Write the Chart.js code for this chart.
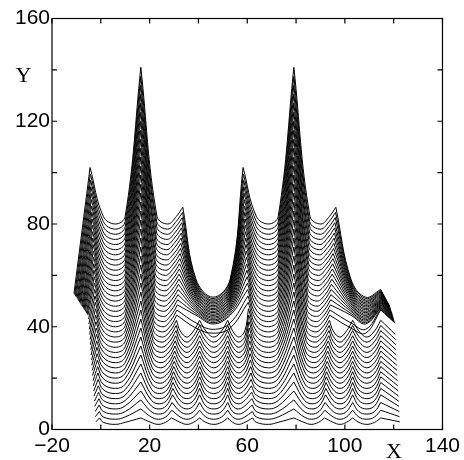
<!DOCTYPE html>
<html>
<head>
<meta charset="utf-8">
<script src="https://cdn.jsdelivr.net/npm/chart.js@4.4.1/dist/chart.umd.min.js"></script>
<style>
html,body{margin:0;padding:0;background:#fff;}
canvas{display:block;}
</style>
</head>
<body>
<canvas id="c" width="464" height="460"></canvas>
<script>
// ---- tick labels ----
const xTickLabels = [-20, 20, 60, 100, 140];
const yTickLabels = [0, 40, 80, 120, 160];
const xTickMarks = [-20, 0, 20, 40, 60, 80, 100, 120, 140];
const yTickMarks = [0, 20, 40, 60, 80, 100, 120, 140, 160];

// ---- 40 stacked profiles (bottom = index 0) ----
// distance between the two repeated peak groups
const repeatX = 62.7;
// x of the cusps that do not drift, and of the left / middle / right points of each U-shaped arc
const xB = 16.4, xD = 40.5, xE = 52;
const xABl = 1.0,  xABm = 6.0,  xABr = 10.0;
const xCDl = 32.5, xCDm = 35.3, xCDr = 38.0;
const xDEl = 43.0, xDEm = 46.3, xDEr = 49.5;
const xEAl = 54.0, xEAm = 56.5, xEAr = 59.0;
const xBowl1l = 39, xBowl1m = 46, xBowl1r = 53;
const xBowl2l = 102.5, xBowl2m = 108.5;

const startX = [-2.0,-2.2,-2.3,-2.5,-2.6,-2.8,-2.9,-3.1,-3.2,-3.4,-3.5,-3.7,-3.8,-4.0,-4.1,-4.3,-4.4,-4.6,-4.7,-4.9,
                -5.0,-5.3,-5.6,-5.9,-6.3,-6.6,-6.9,-7.2,-7.5,-7.8,-8.2,-8.5,-8.8,-9.1,-9.4,-9.7,-10.1,-10.4,-10.7,-11.0];
const startY = [3,5,7,9,11,13,15,17,19,21,23,25,27,29,31,33,35,37,39,41,
                43,44.5,44.9,45.4,45.9,46.4,46.8,47.3,47.8,48.2,48.7,49.2,49.6,50.1,50.6,51.1,51.5,52.0,52.5,52.9];
// bottom of every U-shaped arc
const trough = [2,4,6,8,10,12,14,16,18,20,22,24,26,28,30,32,34,36,38,40,
                42,44,46,48,50,52,54,56,58,60,62,64,66,68,70,72,74,76,78,80];
// height of an arc's side points above its bottom
const armRise = [0.8,0.9,1.0,1.2,1.3,1.4,1.5,1.6,1.8,1.9,2.0,2.1,2.1,2.2,2.2,2.3,2.3,2.4,2.4,2.5,
                 2.5,2.5,2.6,2.6,2.6,2.7,2.7,2.7,2.7,2.8,2.8,2.8,2.8,2.9,2.9,2.9,2.9,3.0,3.0,3.0];
const xA = [-0.5,-0.6,-0.7,-0.8,-0.9,-1.0,-1.1,-1.2,-1.3,-1.4,-1.5,-1.6,-1.7,-1.8,-1.9,-2.0,-2.1,-2.2,-2.3,-2.4,
            -2.5,-2.6,-2.7,-2.8,-2.9,-3.0,-3.1,-3.2,-3.3,-3.4,-3.5,-3.6,-3.7,-3.8,-3.9,-4.0,-4.1,-4.2,-4.3,-4.4];
const peakA = [4.5,7,9.5,12,14.5,17,19.5,22,24.5,27,29.5,32,34.5,37,39.5,42,44.5,47,49.5,52,
               54.5,57,59.5,62,64.5,67,69.5,72,74.5,77,79.5,82,84.5,87,89.5,92,94.5,97,99.5,102];
const peakB = [4.5,8,11.5,15,18.5,22,25.5,29,32.5,36,39.5,43,46.5,50,53.5,57,60.5,64,67.5,71,
               74.5,78,81.5,85,88.5,92,95.5,99,102.5,106,109.5,113,116.5,120,123.5,127,130.5,134,137.5,141];
const xBCl = [20.5,20.6,20.6,20.7,20.8,20.8,20.9,21.0,21.0,21.1,21.1,21.2,21.3,21.3,21.4,21.5,21.5,21.6,21.7,21.7,
              21.8,21.8,21.9,22.0,22.0,22.1,22.2,22.2,22.3,22.4,22.4,22.5,22.5,22.6,22.7,22.7,22.8,22.9,22.9,23.0];
const xBCm = [23.5,23.6,23.7,23.8,23.9,24.0,24.1,24.2,24.3,24.4,24.5,24.6,24.7,24.8,24.9,25.0,25.1,25.3,25.4,25.5,
              25.6,25.7,25.8,25.9,26.0,26.1,26.2,26.3,26.4,26.5,26.6,26.7,26.8,26.9,27.0,27.1,27.2,27.3,27.4,27.5];
const xBCr = [26.5,26.6,26.7,26.8,27.0,27.1,27.2,27.3,27.4,27.5,27.7,27.8,27.9,28.0,28.1,28.2,28.3,28.5,28.6,28.7,
              28.8,28.9,29.0,29.1,29.3,29.4,29.5,29.6,29.7,29.8,30.0,30.1,30.2,30.3,30.4,30.5,30.6,30.8,30.9,31.0];
const xC = [29.0,29.1,29.2,29.4,29.5,29.6,29.7,29.8,29.9,30.1,30.2,30.3,30.4,30.5,30.7,30.8,30.9,31.0,31.1,31.2,
            31.4,31.5,31.6,31.7,31.8,32.0,32.1,32.2,32.3,32.4,32.5,32.7,32.8,32.9,33.0,33.1,33.2,33.4,33.5,33.6];
const peakC = [4.5,7.5,10.5,13.5,16.0,18.3,20.5,22.5,24.5,26.5,28.5,30.5,32.5,34.5,36.5,38.5,40.5,42.5,44.5,46.5,
               48.5,50.5,52.5,54.5,56.5,58.5,60.5,62.5,64.5,66.5,68.5,70.5,72.5,74.5,76.5,78.5,80.5,82.5,84.5,86.5];
const peakE = [4.5,7.5,10.5,13.5,16.0,18.3,20.5,22.5,24.5,26.5,28.5,30.5,32.5,34.5,36.5,38.5,40.5,42.5,46.5,46.9,
               47.3,47.6,48.0,48.4,48.8,49.2,49.5,49.9,50.3,50.7,51.1,51.5,51.8,52.2,52.6,53.0,53.4,53.7,54.1,54.5];
// wide bowl between the C cusp and the next A cusp (upper part of the stack only)
const bowlY = [null,null,null,null,null,null,null,null,null,null,null,null,null,null,null,null,null,null,37.5,39.0,
               41.1,41.6,42.2,42.7,43.3,43.8,44.4,44.9,45.5,46.0,46.6,47.1,47.7,48.2,48.8,49.3,49.9,50.4,51.0,51.5];
const bowlRise = [null,null,null,null,null,null,null,null,null,null,null,null,null,null,null,null,null,null,2.0,2.5,
                  3.4,3.6,3.8,4.0,4.1,4.3,4.5,4.7,4.9,5.1,5.3,5.5,5.7,5.9,6.1,6.2,6.4,6.6,6.8,7.0];
const endX = [122.5,122.4,122.3,122.2,122.1,122.0,121.9,121.7,121.6,121.5,121.4,121.3,121.2,121.1,121.0,120.9,120.8,120.7,120.6,120.4,
              120.3,120.2,120.1,120.0,119.9,119.8,119.7,119.6,119.5,119.4,119.3,119.2,119.0,118.9,118.8,118.7,118.6,118.5,118.4,118.3];
const endY = [3,5,7,9,11,13,15,17,19,21,23,25,27,29,31,33,35,37,41.4,41.7,
              42.0,42.3,42.6,43.0,43.3,43.6,43.9,44.2,44.6,44.9,45.2,45.5,45.8,46.2,46.5,46.8,47.1,47.4,47.8,48.1];

// ---- build one dataset per profile from the arrays ----
function profile(k) {
  const pts = [];
  const pt = (x, y) => pts.push({x: x, y: y});
  const cusp = (x, y) => { pt(x, y); pt(x, y); };   // doubled point -> sharp cusp
  const arc = (xl, xm, xr, y, r) => { pt(xl, y + r); pt(xm, y); pt(xr, y + r); };
  const m = trough[k], r = armRise[k];
  pt(startX[k], startY[k]);
  for (let p = 0; p < 2; p++) {
    const s = p * repeatX;
    cusp(xA[k] + s, peakA[k]);
    arc(xABl + s, xABm + s, xABr + s, m, r);
    cusp(xB + s, peakB[k]);
    arc(xBCl[k] + s, xBCm[k] + s, xBCr[k] + s, m, r);
    cusp(xC[k] + s, peakC[k]);
    if (bowlY[k] === null) {
      arc(xCDl + s, xCDm + s, xCDr + s, m, r);
      cusp(xD + s, peakC[k]);
      arc(xDEl + s, xDEm + s, xDEr + s, m, r);
      cusp(xE + s, peakE[k]);
      if (p === 0) arc(xEAl, xEAm, xEAr, m, r);
    } else if (p === 0) {
      arc(xBowl1l, xBowl1m, xBowl1r, bowlY[k], bowlRise[k]);
    } else {
      pt(xBowl2l, bowlY[k] + bowlRise[k]);
      pt(xBowl2m, bowlY[k]);
      cusp(xE + s, peakE[k]);
    }
  }
  pt(endX[k], endY[k]);
  return pts;
}

const datasets = trough.map((_, k) => ({
  data: profile(k),
  borderColor: '#000',
  borderWidth: 1,
  pointRadius: 0,
  showLine: true,
  fill: false,
  tension: 0.4
}));

const fmt = v => (v < 0 ? '\u2212' + Math.abs(v) : String(v));

const framePlugin = {
  id: 'frame',
  afterDraw(chart) {
    const ctx = chart.ctx, a = chart.chartArea, x = chart.scales.x, y = chart.scales.y;
    ctx.save();
    ctx.strokeStyle = '#000';
    ctx.lineWidth = 1.2;
    ctx.strokeRect(a.left, a.top, a.right - a.left, a.bottom - a.top);
    const L = 5;
    ctx.beginPath();
    xTickMarks.forEach(v => {
      const px = x.getPixelForValue(v);
      ctx.moveTo(px, a.bottom); ctx.lineTo(px, a.bottom - L);
      ctx.moveTo(px, a.top); ctx.lineTo(px, a.top + L);
    });
    yTickMarks.forEach(v => {
      const py = y.getPixelForValue(v);
      ctx.moveTo(a.left, py); ctx.lineTo(a.left + L, py);
      ctx.moveTo(a.right, py); ctx.lineTo(a.right - L, py);
    });
    ctx.stroke();
    ctx.fillStyle = '#000';
    ctx.font = '22px "Liberation Serif", "DejaVu Serif", serif';
    ctx.textAlign = 'center';
    ctx.textBaseline = 'alphabetic';
    ctx.fillText('Y', 23.5, 82);
    ctx.fillText('X', 394, 458);
    ctx.restore();
  }
};

new Chart(document.getElementById('c'), {
  type: 'scatter',
  data: { datasets: datasets },
  options: {
    responsive: false,
    devicePixelRatio: 1,
    animation: false,
    events: [],
    layout: { padding: { top: 18.5, right: 21, left: 0, bottom: 0 } },
    plugins: { legend: { display: false }, tooltip: { enabled: false } },
    scales: {
      x: {
        type: 'linear', min: -20, max: 140,
        grid: { display: false, drawTicks: false },
        border: { display: false },
        ticks: {
          stepSize: 20, autoSkip: false, maxRotation: 0,
          padding: 4, color: '#000',
          font: { family: '"Liberation Sans", Arial, sans-serif', size: 21 },
          callback: v => (xTickLabels.includes(v) ? fmt(v) : '')
        },
        afterFit: s => { s.height = 30.5; }
      },
      y: {
        type: 'linear', min: 0, max: 160,
        grid: { display: false, drawTicks: false },
        border: { display: false },
        ticks: {
          stepSize: 20, autoSkip: false,
          padding: 2, color: '#000',
          font: { family: '"Liberation Sans", Arial, sans-serif', size: 21 },
          callback: v => (yTickLabels.includes(v) ? fmt(v) : '')
        },
        afterFit: s => { s.width = 52; }
      }
    }
  },
  plugins: [framePlugin]
});
</script>
</body>
</html>
